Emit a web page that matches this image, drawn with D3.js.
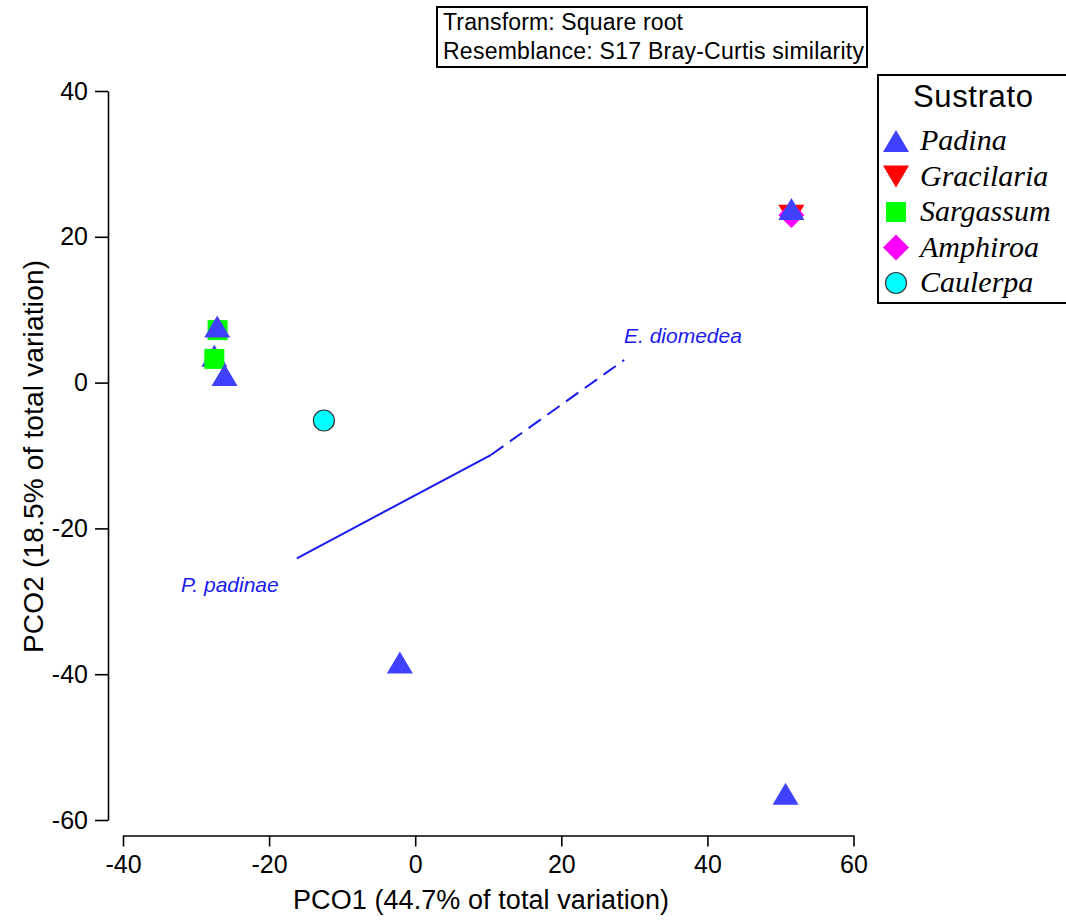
<!DOCTYPE html>
<html>
<head>
<meta charset="utf-8">
<script src="https://cdn.jsdelivr.net/npm/d3@7"></script>
<style>
  body { margin: 0; background: #fff; }
  svg { display: block; font-family: "Liberation Sans", Arial, sans-serif; }
</style>
</head>
<body>
<div id="chart"></div>
<script>
var width = 1066,
    height = 920;

// groups (legend order)
var groups = ['Padina', 'Gracilaria', 'Sargassum', 'Amphiroa', 'Caulerpa'];
var groupColors = ['#4040ff', '#ff0000', '#00ff00', '#ff00ff', '#00ffff'];
var groupShapes = ['up', 'down', 'square', 'diamond', 'circle'];

// samples, in drawing order
var sampleGroup = ['Sargassum', 'Padina', 'Padina', 'Sargassum', 'Padina', 'Caulerpa',
                   'Padina', 'Padina', 'Gracilaria', 'Amphiroa', 'Padina'];
var pco1 = [-27.05, -27.1, -27.5, -27.5, -26.1, -12.5, -2.1, 50.7, 51.5, 51.5, 51.5];
var pco2 = [7.2, 7.7, 3.7, 3.25, 1.05, -5.2, -38.4, -56.4, 22.9, 23.0, 23.8];

// vector overlay
var vecNames = ['P. padinae', 'E. diomedea'];
var vecOrigin = [10.4, -9.9];
var vecX = [-16.2, 28.6];
var vecY = [-24.1, 3.1];

var xTicks = [-40, -20, 0, 20, 40, 60];
var yTicks = [-60, -40, -20, 0, 20, 40];

var svg = d3.select('#chart').append('svg')
    .attr('width', width)
    .attr('height', height);

var x = d3.scaleLinear().domain([-40, 60]).range([123, 853.5]);
var y = d3.scaleLinear().domain([-60, 40]).range([820, 91]);

// plain hyphen for negatives, like the original
var fmt = function(d) { return String(d); };

// axes
var xAxis = svg.append('g')
    .attr('transform', 'translate(0,835.5)')
    .call(d3.axisBottom(x).tickValues(xTicks).tickFormat(fmt)
        .tickSize(11).tickSizeOuter(0).tickPadding(9));
var yAxis = svg.append('g')
    .attr('transform', 'translate(108,0)')
    .call(d3.axisLeft(y).tickValues(yTicks).tickFormat(fmt)
        .tickSize(13).tickSizeOuter(0).tickPadding(7));

[xAxis, yAxis].forEach(function(g) {
    g.selectAll('path, line').attr('stroke', '#000').attr('stroke-width', 1.6);
    g.selectAll('text')
        .attr('fill', '#000')
        .style('font-size', '25px')
        .style('font-family', '"Liberation Sans", Arial, sans-serif');
});

svg.append('text')
    .attr('x', 481)
    .attr('y', 909)
    .attr('text-anchor', 'middle')
    .attr('textLength', 376)
    .style('font-size', '27px')
    .text('PCO1 (44.7% of total variation)');

svg.append('text')
    .attr('transform', 'translate(43,456.5) rotate(-90)')
    .attr('text-anchor', 'middle')
    .attr('textLength', 393)
    .style('font-size', '28px')
    .text('PCO2 (18.5% of total variation)');

// vectors
svg.append('line')
    .attr('x1', x(vecOrigin[0])).attr('y1', y(vecOrigin[1]))
    .attr('x2', x(vecX[0])).attr('y2', y(vecY[0]))
    .attr('stroke', '#1a1aee')
    .attr('stroke-width', 2);
svg.append('line')
    .attr('x1', x(vecOrigin[0])).attr('y1', y(vecOrigin[1]))
    .attr('x2', x(vecX[1])).attr('y2', y(vecY[1]))
    .attr('stroke', '#1a1aee')
    .attr('stroke-width', 2)
    .attr('stroke-dasharray', '15,8');

svg.append('text')
    .attr('x', 181).attr('y', 592)
    .attr('fill', '#1a1aee')
    .style('font-size', '21px')
    .style('font-style', 'italic')
    .text(vecNames[0]);
svg.append('text')
    .attr('x', 624).attr('y', 343)
    .attr('fill', '#1a1aee')
    .style('font-size', '21px')
    .style('font-style', 'italic')
    .text(vecNames[1]);

// symbol shapes
function shapePath(s) {
    if (s == 'up') return 'M0,-11L13,11L-13,11Z';
    if (s == 'down') return 'M0,11L13,-11L-13,-11Z';
    if (s == 'square') return 'M-10,-10H10V10H-10Z';
    if (s == 'diamond') return 'M0,-13L13,0L0,13L-13,0Z';
    return null;
}

function drawSymbol(g, gi) {
    var s = groupShapes[gi];
    if (s == 'circle') {
        g.append('circle')
            .attr('r', 10.5)
            .attr('fill', groupColors[gi])
            .attr('stroke', '#333')
            .attr('stroke-width', 1.2);
    } else {
        g.append('path')
            .attr('d', shapePath(s))
            .attr('fill', groupColors[gi]);
    }
}

// points
var samples = sampleGroup.map(function(gname, i) {
    return {group: gname, x: pco1[i], y: pco2[i]};
});

svg.append('g').selectAll('g')
    .data(samples)
    .enter()
    .append('g')
    .attr('transform', function(d) { return 'translate(' + x(d.x) + ',' + y(d.y) + ')'; })
    .each(function(d) {
        drawSymbol(d3.select(this), groups.indexOf(d.group));
    });

// info box
svg.append('rect')
    .attr('x', 437).attr('y', 7)
    .attr('width', 430).attr('height', 60)
    .attr('fill', 'none')
    .attr('stroke', '#000')
    .attr('stroke-width', 2);
svg.append('text')
    .attr('x', 443).attr('y', 30)
    .attr('textLength', 240)
    .style('font-size', '23px')
    .text('Transform: Square root');
svg.append('text')
    .attr('x', 443).attr('y', 59)
    .attr('textLength', 421)
    .style('font-size', '23px')
    .text('Resemblance: S17 Bray-Curtis similarity');

// legend
svg.append('rect')
    .attr('x', 878).attr('y', 75)
    .attr('width', 200).attr('height', 228)
    .attr('fill', 'none')
    .attr('stroke', '#000')
    .attr('stroke-width', 2);
svg.append('text')
    .attr('x', 973).attr('y', 107)
    .attr('text-anchor', 'middle')
    .attr('textLength', 120)
    .style('font-size', '31px')
    .text('Sustrato');

var legend = svg.append('g').selectAll('g')
    .data(groups)
    .enter()
    .append('g')
    .attr('transform', function(d, i) { return 'translate(0,' + (150 + i * 35.5) + ')'; });

legend.append('g')
    .attr('transform', 'translate(896,-9)')
    .each(function(d, i) { drawSymbol(d3.select(this), i); });

legend.append('text')
    .attr('x', 920)
    .style('font-family', '"Liberation Serif", "Times New Roman", serif')
    .style('font-style', 'italic')
    .style('font-size', '30px')
    .text(function(d) { return d; });
</script>
</body>
</html>
